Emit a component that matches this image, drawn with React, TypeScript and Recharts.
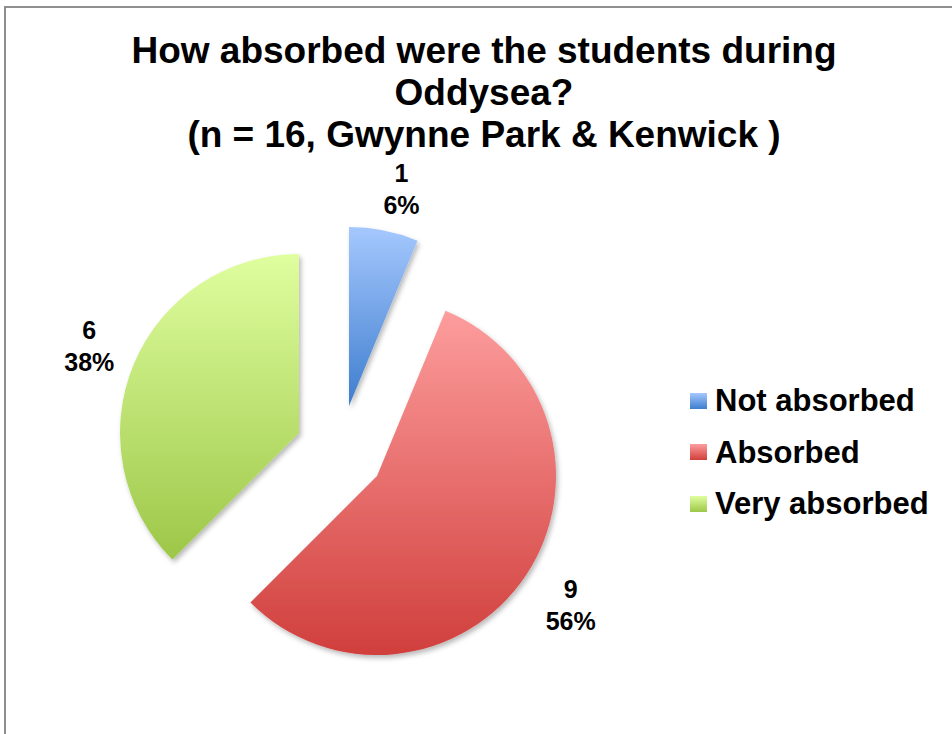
import React from 'react';
import { PieChart, Pie, Cell, Legend } from 'recharts';

// ---- data ----
const categories = ['Not absorbed', 'Absorbed', 'Very absorbed'];
const counts = [1, 9, 6];
const titleLines = [
  'How absorbed were the students during',
  'Oddysea?',
  '(n = 16, Gwynne Park & Kenwick )',
];

const data = categories.map((name, i) => ({ name, value: counts[i] }));

// ---- styles ----
const FONT = '"Liberation Sans", Arial, Helvetica, sans-serif';
const gradientStops = [
  ['#a5c8fe', '#3e7dce'],
  ['#fd9d9d', '#d03f3c'],
  ['#dffe9f', '#9dc748'],
];
const sliceCenters = [
  [349, 406],
  [377, 476],
  [299, 433],
];
const RADIUS = 179;
const labelGap = [44, 54, 48];
const labelNudge = [
  [9, 2],
  [0, 0],
  [0, 0],
];
const RAD = Math.PI / 180;

const renderLabel = (p: any, owner: number) => {
  if (p.index !== owner) return null;
  const r = p.outerRadius + labelGap[owner];
  const x = p.cx + Math.cos(-p.midAngle * RAD) * r + labelNudge[owner][0];
  const y = p.cy + Math.sin(-p.midAngle * RAD) * r + labelNudge[owner][1];
  const pct = Math.round(p.percent * 100);
  return (
    <text
      x={x}
      y={y}
      textAnchor="middle"
      fontFamily={FONT}
      fontWeight="bold"
      fontSize={25}
      fill="#000"
    >
      <tspan x={x} y={y - 16} dominantBaseline="central">
        {p.value}
      </tspan>
      <tspan x={x} y={y + 16} dominantBaseline="central">
        {pct}%
      </tspan>
    </text>
  );
};

const LegendContent = () => (
  <div
    style={{
      fontFamily: FONT,
      fontWeight: 'bold',
      fontSize: 31,
      lineHeight: '51.5px',
      color: '#000',
    }}
  >
    {categories.map((c, i) => (
      <div
        key={c}
        style={{ display: 'flex', alignItems: 'center', whiteSpace: 'nowrap' }}
      >
        <span
          style={{
            display: 'inline-block',
            width: 17,
            height: 16,
            marginRight: 8,
            background: `linear-gradient(${gradientStops[i][0]}, ${gradientStops[i][1]})`,
          }}
        />
        {c}
      </div>
    ))}
  </div>
);

export default function App() {
  return (
    <div style={{ position: 'absolute', left: 0, top: 0, width: 952, height: 734, background: '#fff', overflow: 'hidden' }}>
      <div
        style={{
          position: 'absolute',
          left: 4,
          top: 6,
          width: 946,
          height: 726,
          borderLeft: '2px solid #8f8f8f',
          borderTop: '2px solid #8f8f8f',
        }}
      />
      <div style={{ position: 'absolute', left: 0, top: 0 }}>
        <PieChart width={952} height={734} margin={{ top: 0, right: 0, bottom: 0, left: 0 }}>
          <defs>
            {gradientStops.map((s, i) => (
              <linearGradient key={i} id={`grad${i}`} x1="0" y1="0" x2="0" y2="1">
                <stop offset="0%" stopColor={s[0]} />
                <stop offset="100%" stopColor={s[1]} />
              </linearGradient>
            ))}
            <filter id="shadow" x="-20%" y="-20%" width="140%" height="140%">
              <feDropShadow dx="2" dy="3" stdDeviation="2.5" floodColor="#000" floodOpacity="0.28" />
            </filter>
          </defs>
          <g>
            {titleLines.map((t, i) => (
              <text
                key={i}
                x={484}
                y={63 + i * 42}
                textAnchor="middle"
                fontFamily={FONT}
                fontWeight="bold"
                fontSize={37}
                fill="#000"
              >
                {t}
              </text>
            ))}
          </g>
          {sliceCenters.map(([cx, cy], k) => (
            <Pie
              key={k}
              data={data}
              dataKey="value"
              nameKey="name"
              cx={cx}
              cy={cy}
              outerRadius={RADIUS}
              startAngle={90}
              endAngle={-270}
              stroke="none"
              isAnimationActive={false}
              labelLine={false}
              label={(p: any) => renderLabel(p, k)}
            >
              {data.map((d, i) => (
                <Cell
                  key={d.name}
                  fill={i === k ? `url(#grad${i})` : 'transparent'}
                  stroke="none"
                  filter={i === k ? 'url(#shadow)' : undefined}
                />
              ))}
            </Pie>
          ))}
          <Legend
            layout="vertical"
            align="right"
            verticalAlign="top"
            content={() => <LegendContent />}
            wrapperStyle={{ left: 690, top: 375, width: 262, right: 'auto', bottom: 'auto' }}
          />
        </PieChart>
      </div>
    </div>
  );
}
